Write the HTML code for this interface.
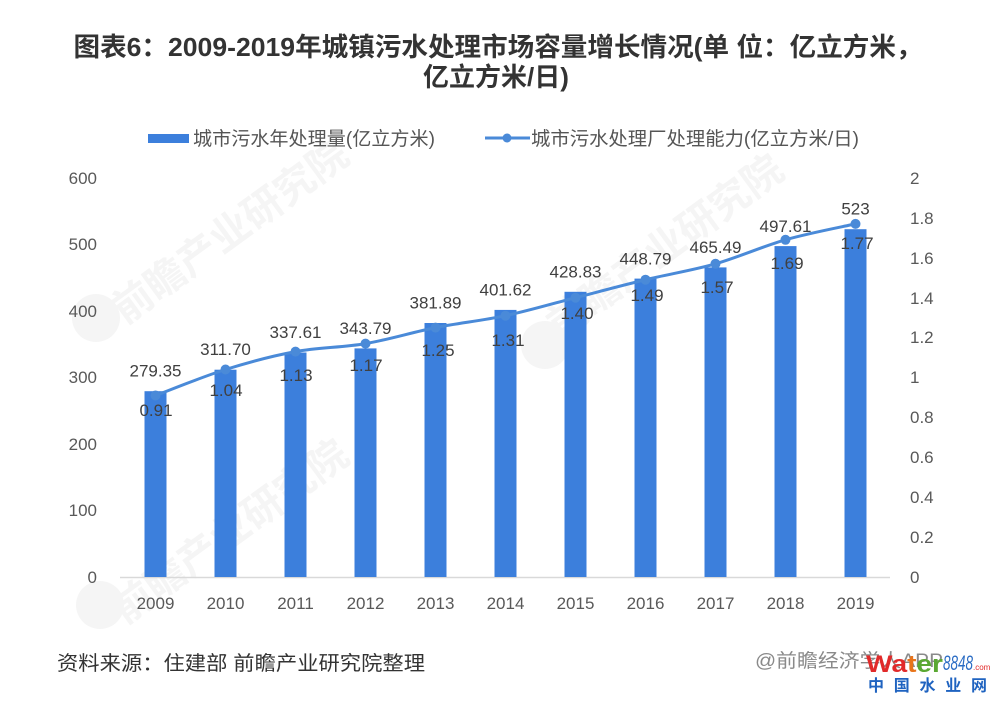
<!DOCTYPE html>
<html><head><meta charset="utf-8"><style>
html,body{margin:0;padding:0;background:#fff;}
svg{display:block;}
text{font-family:"Liberation Sans","Noto Sans CJK SC",sans-serif;}
</style></head><body>
<svg width="997" height="702" viewBox="0 0 997 702" xmlns="http://www.w3.org/2000/svg">
<rect width="997" height="702" fill="#fff"/>
<!-- watermarks -->
<g fill="#f5f5f5">
  <circle cx="96" cy="318" r="24"/>
  <text x="125" y="325" font-size="40" font-weight="bold" transform="rotate(-36 125 325)">前瞻产业研究院</text>
  <circle cx="545" cy="345" r="24"/>
  <text x="560" y="340" font-size="40" font-weight="bold" transform="rotate(-36 560 340)">前瞻产业研究院</text>
  <circle cx="100" cy="605" r="24"/>
  <text x="125" y="625" font-size="40" font-weight="bold" transform="rotate(-36 125 625)">前瞻产业研究院</text>
</g>
<!-- title -->
<text x="498" y="56" font-size="26" font-weight="bold" fill="#333" text-anchor="middle" textLength="849" lengthAdjust="spacingAndGlyphs">图表6：2009-2019年城镇污水处理市场容量增长情况(单 位：亿立方米，</text>
<text x="496" y="86" font-size="26" font-weight="bold" fill="#333" text-anchor="middle">亿立方米/日)</text>
<!-- legend -->
<rect x="148" y="134" width="41" height="9" fill="#3c7fdc"/>
<text x="193" y="145" font-size="19" fill="#555" textLength="242" lengthAdjust="spacingAndGlyphs">城市污水年处理量(亿立方米)</text>
<line x1="485" y1="138" x2="530" y2="138" stroke="#4a8ad8" stroke-width="3"/>
<circle cx="507" cy="138" r="4.5" fill="#4a8ad8"/>
<text x="531" y="145" font-size="19" fill="#555" textLength="328" lengthAdjust="spacingAndGlyphs">城市污水处理厂处理能力(亿立方米/日)</text>
<!-- left axis labels -->
<g font-size="17" fill="#595959" text-anchor="end">
  <text x="97" y="184">600</text>
  <text x="97" y="250">500</text>
  <text x="97" y="317">400</text>
  <text x="97" y="383">300</text>
  <text x="97" y="450">200</text>
  <text x="97" y="516">100</text>
  <text x="97" y="583">0</text>
</g>
<!-- right axis labels -->
<g font-size="17" fill="#595959">
  <text x="910" y="184">2</text>
  <text x="910" y="224">1.8</text>
  <text x="910" y="264">1.6</text>
  <text x="910" y="304">1.4</text>
  <text x="910" y="343">1.2</text>
  <text x="910" y="383">1</text>
  <text x="910" y="423">0.8</text>
  <text x="910" y="463">0.6</text>
  <text x="910" y="503">0.4</text>
  <text x="910" y="543">0.2</text>
  <text x="910" y="583">0</text>
</g>
<!-- axis line -->
<line x1="120" y1="577.5" x2="890" y2="577.5" stroke="#d9d9d9" stroke-width="1.5"/>
<!-- bars -->
<g fill="#3c7fdc">
  <rect x="144.5" y="391.2" width="22" height="185.8"/>
  <rect x="214.5" y="369.7" width="22" height="207.3"/>
  <rect x="284.5" y="352.5" width="22" height="224.5"/>
  <rect x="354.5" y="348.4" width="22" height="228.6"/>
  <rect x="424.5" y="323.0" width="22" height="254.0"/>
  <rect x="494.5" y="309.9" width="22" height="267.1"/>
  <rect x="564.5" y="291.8" width="22" height="285.2"/>
  <rect x="634.5" y="278.6" width="22" height="298.4"/>
  <rect x="704.5" y="267.4" width="22" height="309.6"/>
  <rect x="774.5" y="246.1" width="22" height="330.9"/>
  <rect x="844.5" y="229.2" width="22" height="347.8"/>
</g>
<!-- x labels -->
<g font-size="17" fill="#595959" text-anchor="middle">
  <text x="155.5" y="609">2009</text>
  <text x="225.5" y="609">2010</text>
  <text x="295.5" y="609">2011</text>
  <text x="365.5" y="609">2012</text>
  <text x="435.5" y="609">2013</text>
  <text x="505.5" y="609">2014</text>
  <text x="575.5" y="609">2015</text>
  <text x="645.5" y="609">2016</text>
  <text x="715.5" y="609">2017</text>
  <text x="785.5" y="609">2018</text>
  <text x="855.5" y="609">2019</text>
</g>
<!-- line -->
<path d="M155.5,395.5 C167.2,391.2 202.2,376.8 225.5,369.5 C248.8,362.2 272.2,355.9 295.5,351.6 C318.8,347.3 342.2,347.6 365.5,343.6 C388.8,339.6 412.2,332.25 435.5,327.6 C458.8,322.95 482.2,320.7 505.5,315.7 C528.8,310.7 552.2,303.7 575.5,297.7 C598.8,291.7 622.2,285.35 645.5,279.7 C668.8,274.05 692.2,270.45 715.5,263.8 C738.8,257.15 762.2,246.45 785.5,239.8 C808.8,233.15 843.8,226.55 855.5,223.9" fill="none" stroke="#4a8ad8" stroke-width="3"/>
<g fill="#4a8ad8">
  <circle cx="155.5" cy="395.5" r="5"/>
  <circle cx="225.5" cy="369.5" r="5"/>
  <circle cx="295.5" cy="351.6" r="5"/>
  <circle cx="365.5" cy="343.6" r="5"/>
  <circle cx="435.5" cy="327.6" r="5"/>
  <circle cx="505.5" cy="315.7" r="5"/>
  <circle cx="575.5" cy="297.7" r="5"/>
  <circle cx="645.5" cy="279.7" r="5"/>
  <circle cx="715.5" cy="263.8" r="5"/>
  <circle cx="785.5" cy="239.8" r="5"/>
  <circle cx="855.5" cy="223.9" r="5"/>
</g>
<!-- bar value labels -->
<g font-size="17" fill="#404040" text-anchor="middle">
  <text x="155.5" y="376.5">279.35</text>
  <text x="225.5" y="355">311.70</text>
  <text x="295.5" y="338">337.61</text>
  <text x="365.5" y="334">343.79</text>
  <text x="435.5" y="308.5">381.89</text>
  <text x="505.5" y="295.5">401.62</text>
  <text x="575.5" y="277.5">428.83</text>
  <text x="645.5" y="264.5">448.79</text>
  <text x="715.5" y="253">465.49</text>
  <text x="785.5" y="232">497.61</text>
  <text x="855.5" y="214.5">523</text>
</g>
<!-- line value labels -->
<g font-size="17" fill="#404040" text-anchor="middle">
  <text x="156" y="416">0.91</text>
  <text x="226" y="396">1.04</text>
  <text x="296" y="381">1.13</text>
  <text x="366" y="371">1.17</text>
  <text x="438" y="356">1.25</text>
  <text x="508" y="346">1.31</text>
  <text x="577" y="319">1.40</text>
  <text x="647" y="301">1.49</text>
  <text x="717" y="293">1.57</text>
  <text x="787" y="269">1.69</text>
  <text x="857" y="249">1.77</text>
</g>
<!-- footer -->
<text x="57" y="670" font-size="20" fill="#333" textLength="368" lengthAdjust="spacingAndGlyphs">资料来源：住建部 前瞻产业研究院整理</text>
<text x="755" y="667" font-size="19" fill="#8a8a8a" textLength="188" lengthAdjust="spacingAndGlyphs">@前瞻经济学人APP</text>
<!-- water logo -->
<text x="866" y="672" font-size="24" font-weight="bold" textLength="77" lengthAdjust="spacingAndGlyphs"><tspan fill="#e12a2a">Wa</tspan><tspan fill="#e8741a">t</tspan><tspan fill="#5aa832">er</tspan></text>
<text x="943" y="670" font-size="21" font-style="italic" fill="#2a6cc4" font-family="Liberation Serif, serif" textLength="30" lengthAdjust="spacingAndGlyphs">8848</text>
<text x="973" y="670" font-size="8" fill="#e12a2a">.com</text>
<text x="868" y="691" font-size="16" font-weight="bold" fill="#1f63c0" textLength="119" lengthAdjust="spacing">中 国 水 业 网</text>
</svg>
</body></html>
